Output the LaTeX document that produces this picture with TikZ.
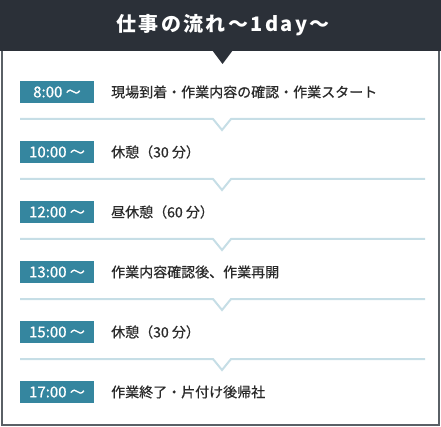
\documentclass[tikz,border=0pt]{standalone}
\usepackage{fontspec}
\setmainfont{Noto Sans CJK JP}
\newfontfamily\titlefont[LetterSpace=12]{Noto Sans CJK JP}
\newfontfamily\medfont[FakeBold=0.6]{Noto Sans CJK JP}
\usepackage{xcolor}
\usepackage{tikz}
\usetikzlibrary{positioning,calc}

\definecolor{headbg}{HTML}{2B3038}
\definecolor{timebg}{HTML}{35869F}
\definecolor{sepline}{HTML}{C6DEE6}
\definecolor{frameline}{HTML}{5A6066}
\definecolor{bodytext}{HTML}{2A2A2A}

\begin{document}
\begin{tikzpicture}[x=1pt,y=-1pt,
        timebox/.style={fill=timebg, text=white, minimum width=74pt, minimum height=22pt,
            inner sep=0pt, font=\medfont\fontsize{15}{15}\selectfont},
        desc/.style={anchor=west, text=bodytext, inner sep=0pt, font=\medfont\fontsize{14}{14}\selectfont},
        sep/.style={draw=sepline, line width=2pt}]
        \useasboundingbox (0,0) rectangle (441,427);
        % frame and header
        \draw[frameline, line width=2pt] (1.5,0) rectangle (439,424.5);
        \fill[headbg] (0,0) rectangle (441,51);
        \fill[headbg] (212,50) -- (233,50) -- (222.5,64) -- cycle;
        \node[text=white, font=\titlefont\bfseries\fontsize{20}{20}\selectfont] (title) at (223,25) {仕事の流れ～1day～};

        % time slots
        \node[timebox] (t1) at (57,92) {8:00 ～};
        \node[timebox] (t2) at (57,152) {10:00 ～};
        \node[timebox] (t3) at (57,212) {12:00 ～};
        \node[timebox] (t4) at (57,272) {13:00 ～};
        \node[timebox] (t5) at (57,332) {15:00 ～};
        \node[timebox] (t6) at (57,392) {17:00 ～};

        % what happens
        \node[desc] (d1) at (111,92) {現場到着・作業内容の確認・作業スタート};
        \node[desc] (d2) at (111,152) {休憩（30 分）};
        \node[desc] (d3) at (111,212) {昼休憩（60 分）};
        \node[desc] (d4) at (111,272) {作業内容確認後、作業再開};
        \node[desc] (d5) at (111,332) {休憩（30 分）};
        \node[desc] (d6) at (111,392) {作業終了・片付け後帰社};

        % separators
        \foreach \y in {119,179,239,299,359}
            \draw[sep] (20,\y) -- (213,\y) -- (222,\y+11) -- (231,\y) -- (425,\y);
    \end{tikzpicture}
\end{document}
